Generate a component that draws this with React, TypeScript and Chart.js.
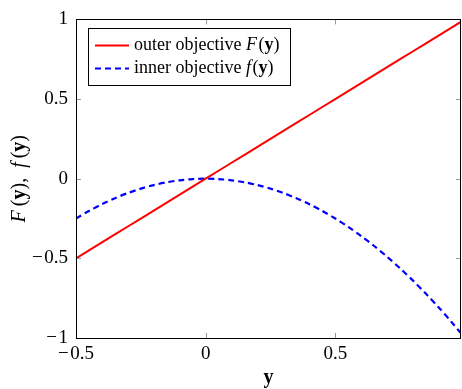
import React, { useEffect, useRef } from "react";
import { Chart, registerables } from "chart.js";

Chart.register(...registerables);

// ---- data ----
const xSamples = [-0.5, -0.45, -0.4, -0.35, -0.3, -0.25, -0.2, -0.15, -0.1, -0.05, 0, 0.05, 0.1, 0.15, 0.2, 0.25, 0.3, 0.35, 0.4, 0.45, 0.5, 0.55, 0.6, 0.65, 0.7, 0.75, 0.8, 0.85, 0.9, 0.95, 1.0];
const outerValues = [-0.5, -0.45, -0.4, -0.35, -0.3, -0.25, -0.2, -0.15, -0.1, -0.05, 0, 0.05, 0.1, 0.15, 0.2, 0.25, 0.3, 0.35, 0.4, 0.45, 0.5, 0.55, 0.6, 0.65, 0.7, 0.75, 0.8, 0.85, 0.9, 0.95, 1.0];
const innerValues = [-0.25, -0.2025, -0.16, -0.1225, -0.09, -0.0625, -0.04, -0.0225, -0.01, -0.0025, 0, -0.0025, -0.01, -0.0225, -0.04, -0.0625, -0.09, -0.1225, -0.16, -0.2025, -0.25, -0.3025, -0.36, -0.4225, -0.49, -0.5625, -0.64, -0.7225, -0.81, -0.9025, -1.0];
const xTicks = [-0.5, 0, 0.5];
const yTicks = [-1, -0.5, 0, 0.5, 1];
const seriesLabels = ["outer objective", "inner objective"];

const FONT = "'Liberation Serif', 'DejaVu Serif', serif";

type Seg = { t: string; style?: "" | "italic" | "bold" };

function segFont(size: number, s?: string) {
  if (s === "italic") return `italic ${size}px ${FONT}`;
  if (s === "bold") return `bold ${size}px ${FONT}`;
  return `${size}px ${FONT}`;
}
function measureSegs(ctx: CanvasRenderingContext2D, segs: Seg[], size: number) {
  let w = 0;
  for (const s of segs) {
    ctx.font = segFont(size, s.style);
    w += ctx.measureText(s.t).width;
  }
  return w;
}
function drawSegs(ctx: CanvasRenderingContext2D, segs: Seg[], x: number, y: number, size: number) {
  let cx = x;
  ctx.textAlign = "left";
  ctx.textBaseline = "middle";
  for (const s of segs) {
    ctx.font = segFont(size, s.style);
    ctx.fillText(s.t, cx, y);
    cx += ctx.measureText(s.t).width;
  }
}
const fmt = (v: number) => (v < 0 ? "\u2212\u200A" + String(Math.abs(v)) : String(v));

const framePlugin = {
  id: "frame",
  afterDatasetsDraw(chart: any) {
    const { ctx, chartArea: a, scales } = chart;
    ctx.save();
    // inward tick marks on all four sides
    ctx.strokeStyle = "#999";
    ctx.lineWidth = 1;
    const tl = 5;
    ctx.beginPath();
    for (const v of xTicks) {
      const px = Math.round(scales.x.getPixelForValue(v)) + 0.5;
      ctx.moveTo(px, a.bottom); ctx.lineTo(px, a.bottom - tl);
      ctx.moveTo(px, a.top); ctx.lineTo(px, a.top + tl);
    }
    for (const v of yTicks) {
      const py = Math.round(scales.y.getPixelForValue(v)) + 0.5;
      ctx.moveTo(a.left, py); ctx.lineTo(a.left + tl, py);
      ctx.moveTo(a.right, py); ctx.lineTo(a.right - tl, py);
    }
    ctx.stroke();
    // frame
    ctx.strokeStyle = "#000";
    ctx.lineWidth = 1;
    ctx.strokeRect(Math.round(a.left) + 0.5, Math.round(a.top) + 0.5, Math.round(a.right - a.left) - 1, Math.round(a.bottom - a.top));

    // legend
    const size = 18;
    const rows: { segs: Seg[]; color: string; dash: number[] }[] = [
      { segs: [{ t: seriesLabels[0] + " " }, { t: "F\u200A", style: "italic" }, { t: "(" }, { t: "y", style: "bold" }, { t: ")" }], color: "#ff0000", dash: [] },
      { segs: [{ t: seriesLabels[1] + " " }, { t: "f\u200A", style: "italic" }, { t: "(" }, { t: "y", style: "bold" }, { t: ")" }], color: "#0000ff", dash: [6, 4] },
    ];
    const bx = a.left + 12, by = a.top + 9;
    const textW = Math.max(...rows.map(r => measureSegs(ctx, r.segs, size)));
    const bw = 7 + 34 + 5 + textW + 11;
    const bh = 57;
    ctx.fillStyle = "#fff";
    ctx.fillRect(bx, by, bw, bh);
    ctx.strokeStyle = "#000";
    ctx.strokeRect(Math.round(bx) + 0.5, Math.round(by) + 0.5, Math.round(bw), bh);
    rows.forEach((r, i) => {
      const cy = by + 17 + i * 23;
      ctx.strokeStyle = r.color;
      ctx.lineWidth = 2;
      ctx.setLineDash(r.dash);
      ctx.beginPath();
      ctx.moveTo(bx + 7, cy); ctx.lineTo(bx + 41, cy);
      ctx.stroke();
      ctx.setLineDash([]);
      ctx.fillStyle = "#000";
      drawSegs(ctx, r.segs, bx + 46, cy, size);
    });

    // axis titles
    const tsize = 20;
    ctx.fillStyle = "#000";
    const xt: Seg[] = [{ t: "y", style: "bold" }];
    const xw = measureSegs(ctx, xt, tsize);
    drawSegs(ctx, xt, (a.left + a.right) / 2 - xw / 2, 378, tsize);

    const yt: Seg[] = [
      { t: "F\u2009", style: "italic" }, { t: "(" }, { t: "y", style: "bold" }, { t: ")" }, { t: ",\u2002" },
      { t: "f\u2009", style: "italic" }, { t: "(" }, { t: "y", style: "bold" }, { t: ")" },
    ];
    const yw = measureSegs(ctx, yt, tsize);
    ctx.translate(20, (a.top + a.bottom) / 2);
    ctx.rotate(-Math.PI / 2);
    drawSegs(ctx, yt, -yw / 2, 0, tsize);
    ctx.restore();
  },
};

export default function App() {
  const ref = useRef<HTMLCanvasElement | null>(null);
  useEffect(() => {
    if (!ref.current) return;
    const chart = new Chart(ref.current, {
      type: "scatter",
      data: {
        datasets: [
          {
            label: seriesLabels[0],
            data: xSamples.map((x, i) => ({ x, y: outerValues[i] })),
            showLine: true,
            borderColor: "#ff0000",
            borderWidth: 2,
            pointRadius: 0,
            fill: false,
          },
          {
            label: seriesLabels[1],
            data: xSamples.map((x, i) => ({ x, y: innerValues[i] })),
            showLine: true,
            borderColor: "#0000ff",
            borderWidth: 2.2,
            borderDash: [6, 4],
            pointRadius: 0,
            tension: 0.3,
            fill: false,
          },
        ],
      },
      options: {
        animation: false,
        responsive: false,
        devicePixelRatio: 1,
        layout: { padding: { top: 15, right: 1, left: 0, bottom: 0 } },
        plugins: { legend: { display: false }, tooltip: { enabled: false } },
        scales: {
          x: {
            type: "linear",
            min: -0.5,
            max: 0.985,
            grid: { display: false, drawTicks: false },
            border: { display: false },
            afterBuildTicks: (s: any) => { s.ticks = xTicks.map(v => ({ value: v })); },
            afterFit: (s: any) => { s.height = 51; },
            ticks: {
              padding: 5,
              color: "#000",
              font: { family: FONT, size: 19 },
              maxRotation: 0,
              callback: (v: any) => fmt(Number(v)),
            },
          },
          y: {
            type: "linear",
            min: -1,
            max: 1,
            grid: { display: false, drawTicks: false },
            border: { display: false },
            afterBuildTicks: (s: any) => { s.ticks = yTicks.map(v => ({ value: v })); },
            afterFit: (s: any) => { s.width = 76; },
            ticks: {
              padding: 8,
              color: "#000",
              font: { family: FONT, size: 19 },
              callback: (v: any) => fmt(Number(v)),
            },
          },
        },
      },
      plugins: [framePlugin],
    } as any);
    return () => chart.destroy();
  }, []);
  return (
    <div style={{ position: "fixed", left: 0, top: 0, width: 462, height: 389, background: "#fff" }}>
      <canvas ref={ref} width={462} height={389} />
    </div>
  );
}
